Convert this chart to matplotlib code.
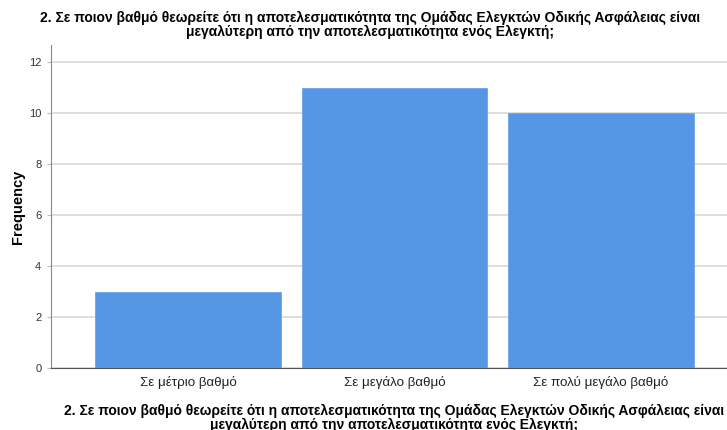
import matplotlib
matplotlib.use("Agg")
import matplotlib.pyplot as plt

categories = ["Σε μέτριο βαθμό", "Σε μεγάλο βαθμό", "Σε πολύ μεγάλο βαθμό"]
frequency = [3, 11, 10]
yticks = [0, 2, 4, 6, 8, 10, 12]

question = ("2. Σε ποιον βαθμό θεωρείτε ότι η αποτελεσματικότητα της Ομάδας Ελεγκτών Οδικής Ασφάλειας είναι\n"
            "μεγαλύτερη από την αποτελεσματικότητα ενός Ελεγκτή;")

plt.rcParams['font.family'] = ['Liberation Sans', 'DejaVu Sans']

fig = plt.figure(figsize=(7.27, 4.30), dpi=100)
ax = fig.add_axes([51 / 727, 1 - 368 / 430, 1 - 51 / 727, (368 - 45) / 430])

x = range(len(categories))
ax.bar(x, frequency, width=0.9, color='#5596e5', edgecolor='#6aa4ea', linewidth=0.6, zorder=3)

ax.set_xlim(-0.663, 2.61)
ax.set_ylim(0, 12.67)
ax.set_yticks(yticks)
ax.set_yticklabels([str(v) for v in yticks], fontsize=8, color='#333333')
ax.set_xticks(list(x))
ax.set_xticklabels(categories, fontsize=9.6, color='#222222')
ax.tick_params(axis='x', length=0, pad=6)
ax.tick_params(axis='y', length=3, color='#bbbbbb', pad=4)
ax.grid(axis='y', color='#d9d9d9', linewidth=1.2, zorder=0)

for side in ['top', 'right']:
    ax.spines[side].set_visible(False)
ax.spines['left'].set_color('#888888')
ax.spines['bottom'].set_color('#555555')

ax.set_ylabel("Frequency", fontsize=10.5, fontweight='bold')
ax.yaxis.set_label_coords(-0.0385, 0.5)

fig.text(370 / 727, 1 - 11 / 430, question, ha='center', va='top', fontsize=10,
         fontweight='bold', linespacing=0.95)
fig.text(394 / 727, 1 - 404 / 430, question, ha='center', va='top', fontsize=10,
         fontweight='bold', linespacing=0.95)

fig.savefig("out.png", dpi=100)
